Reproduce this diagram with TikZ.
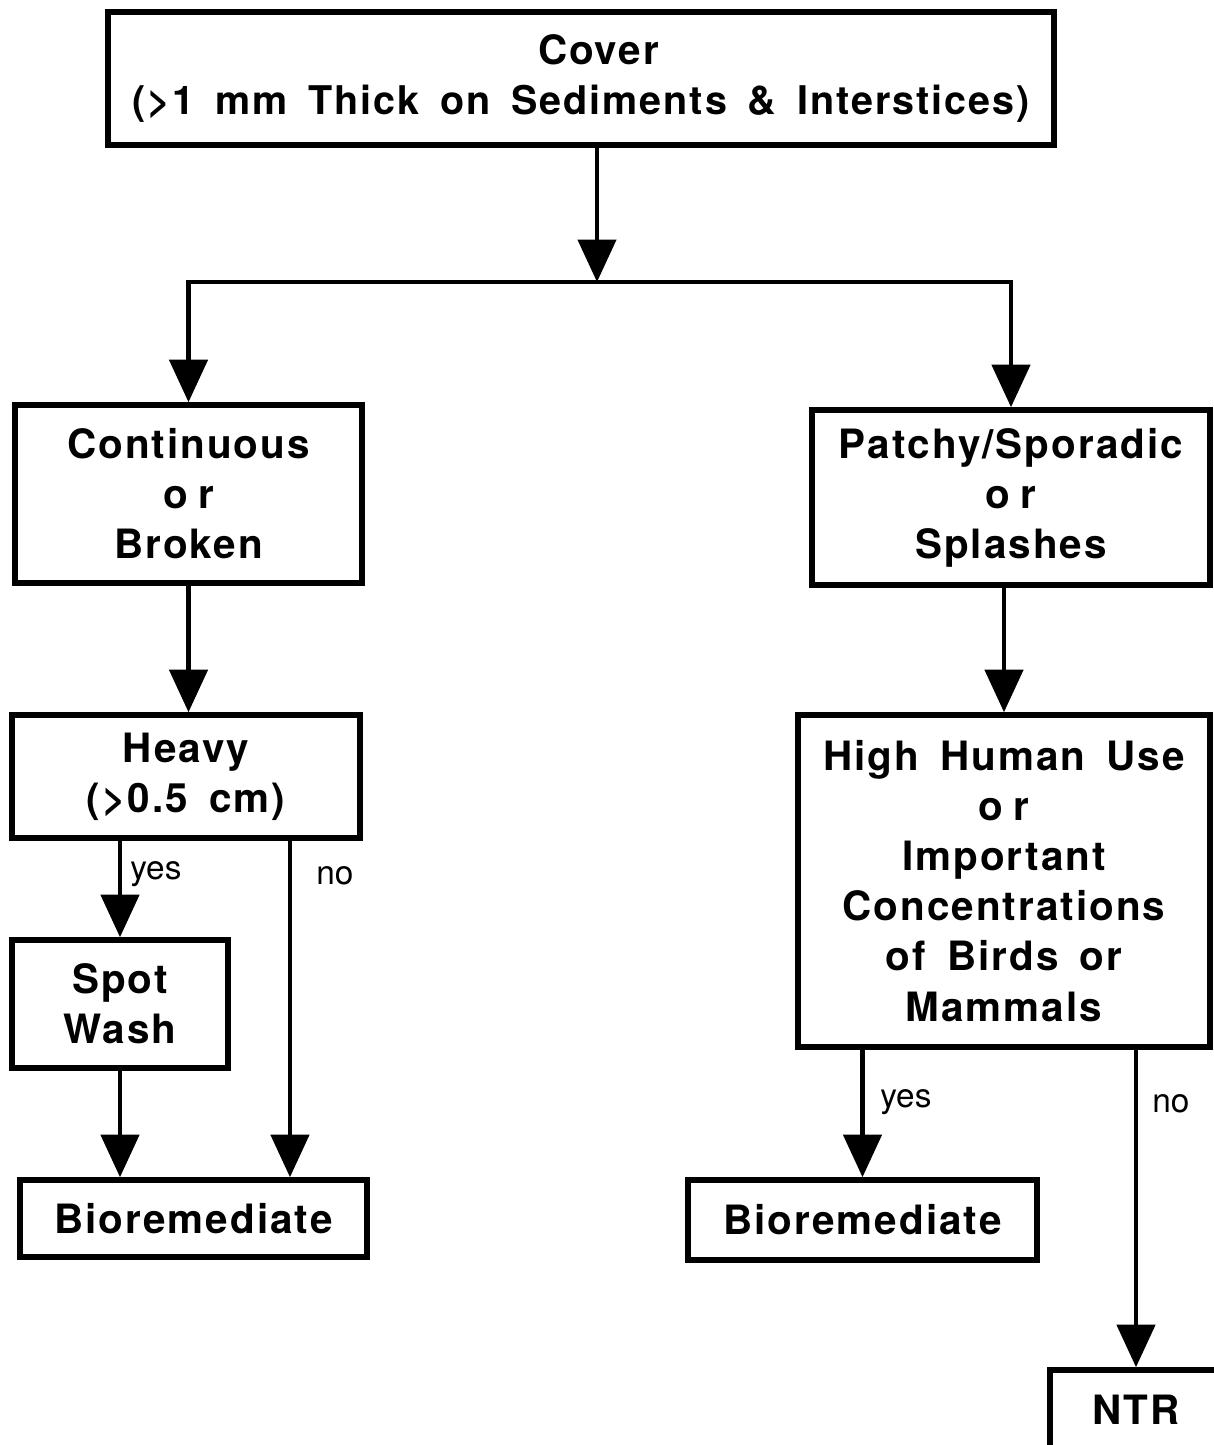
\documentclass[tikz,border=0pt]{standalone}
\usepackage{fontspec}
\setmainfont{TeX Gyre Heros}
\newfontfamily\boxfont[LetterSpace=5,WordSpace=1.6]{TeX Gyre Heros}
\usetikzlibrary{arrows.meta}

\tikzset{
  box/.style={draw, line width=3.2pt, align=center, inner sep=0pt,
    font=\boxfont\bfseries\fontsize{23}{28.5}\selectfont},
  arr/.style={line width=2.6pt, -{Triangle[length=0.85cm,width=0.76cm]}},
  lbl/.style={anchor=west, inner sep=0pt, font=\fontsize{19}{22}\selectfont},
}
\newcommand{\orword}{o\hspace{0.25em}r}
\newcommand{\pushright}{\hspace*{0.7cm}}

\begin{document}
\begin{tikzpicture}[x=0.02cm,y=-0.02cm]
    \useasboundingbox (0,0) rectangle (1214,1445);

    % top
    \node[box, minimum width=18.92cm, minimum height=2.66cm] (cover) at (581,78.5)
      {\pushright Cover\\{\fontsize{22.5}{28.5}\selectfont(>1 mm Thick on Sediments \& Interstices)}};
    \coordinate (split) at (597,282);

    % left branch
    \node[box, minimum width=6.94cm, minimum height=3.56cm] (cont) at (188.5,494)
      {Continuous\\\orword\\Broken};
    \node[box, minimum width=6.96cm, minimum height=2.46cm] (heavy) at (186,776.5)
      {Heavy\\(>0.5 cm)};
    \node[box, minimum width=4.32cm, minimum height=2.56cm] (spot) at (120,1004)
      {Spot\\Wash};
    \node[box, minimum width=6.94cm, minimum height=1.54cm] (bioL) at (193.5,1218.5)
      {Bioremediate};

    % right branch
    \node[box, minimum width=7.96cm, minimum height=3.5cm] (patchy) at (1011,497.5)
      {Patchy/Sporadic\\\orword\\Splashes};
    \node[box, minimum width=8.24cm, minimum height=6.64cm] (high) at (1004,881)
      {High Human Use\\\orword\\Important\\Concentrations\\of Birds or\\Mammals};
    \node[box, minimum width=6.98cm, minimum height=1.6cm] (bioR) at (862.5,1220)
      {Bioremediate};
    \node[box, minimum width=3.44cm, minimum height=1.6cm] (ntr) at (1136,1410)
      {NTR};

    % connectors
    \draw[arr] (cover.south -| split) -- (split);
    \draw[arr] (split) -| (cont.north);
    \draw[arr] (split) -| (patchy.north);
    \draw[arr] (cont.south) -- (cont.south |- heavy.north);
    \draw[arr] (heavy.south -| spot) -- (spot);
    \draw[arr] ([xshift=2.08cm]heavy.south) -- ([xshift=2.08cm]heavy.south |- bioL.north);
    \draw[arr] (spot) -- (spot.south |- bioL.north);
    \draw[arr] (patchy.south -| high) -- (high);
    \draw[arr] (high.south -| bioR) -- (bioR);
    \draw[arr] (high.south -| ntr) -- (ntr);

    % labels
    \node[lbl] (yesL) at (130,874) {yes};
    \node[lbl] (noL) at (316,876) {no};
    \node[lbl] (yesR) at (880,1102) {yes};
    \node[lbl] (noR) at (1152,1104) {no};
\end{tikzpicture}
\end{document}
